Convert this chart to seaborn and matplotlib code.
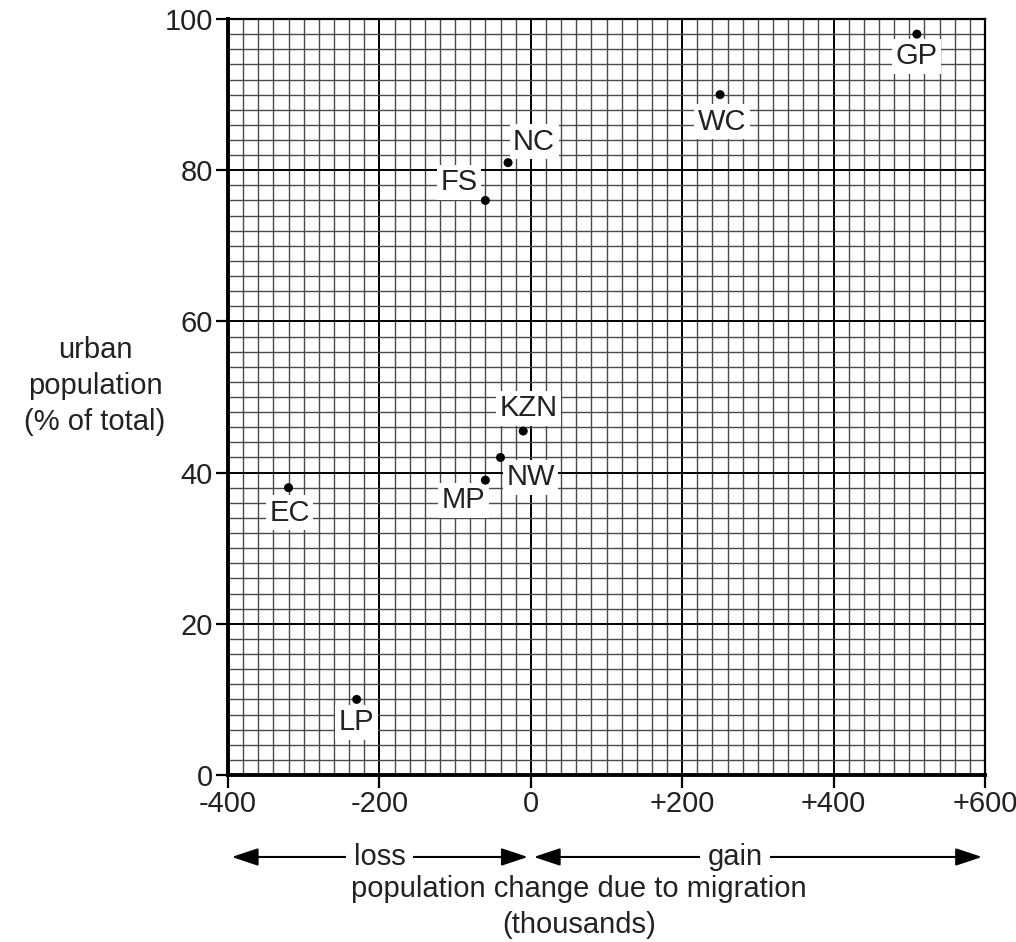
import numpy as np
import pandas as pd
import matplotlib
matplotlib.use("Agg")
import matplotlib.pyplot as plt
import matplotlib.transforms as mtransforms
import seaborn as sns

# --------------------------------------------------------------------------- #
# Data: provinces, migration change (thousands) and urban population (%)
# --------------------------------------------------------------------------- #
provinces = ["GP", "WC", "NC", "FS", "KZN", "NW", "MP", "EC", "LP"]
migration_change = [510, 250, -30, -60, -10, -40, -60, -320, -230]
urban_pct = [98, 90, 81, 76, 45.5, 42, 39, 38, 10]

x_ticks = [-400, -200, 0, 200, 400, 600]
x_tick_labels = ["-400", "-200", "0", "+200", "+400", "+600"]
y_ticks = [0, 20, 40, 60, 80, 100]

df = pd.DataFrame({"province": provinces, "change": migration_change,
                   "urban": urban_pct})

# label placement relative to each dot (pixels)
label_offsets = {
    "GP": (0, -22), "WC": (2, -27), "NC": (26, 21), "FS": (-26, 18),
    "KZN": (5, 23), "NW": (30, -20), "MP": (-22, -20), "EC": (1, -25),
    "LP": (0, -23),
}

sns.set_theme(style="white")
plt.rcParams["font.family"] = ["Liberation Sans", "DejaVu Sans"]
TXT = "#222222"
FS = 21

fig = plt.figure(figsize=(10.16, 9.42), dpi=100)
ax = fig.add_axes([0.2244, 0.1773, 0.9695 - 0.2244, 0.9798 - 0.1773])

ax.set_xlim(-400, 600)
ax.set_ylim(0, 100)

# graph-paper grid
ax.set_xticks(np.arange(-400, 601, 20), minor=True)
ax.set_yticks(np.arange(0, 101, 2), minor=True)
ax.set_xticks(x_ticks)
ax.set_xticklabels(x_tick_labels)
ax.set_yticks(y_ticks)
ax.grid(which="minor", color="#4a4a4a", linewidth=1.0)
ax.grid(which="major", color="black", linewidth=1.4)
ax.set_axisbelow(True)

for side in ["left", "bottom"]:
    ax.spines[side].set_linewidth(2.8)
    ax.spines[side].set_color("black")
for side in ["top", "right"]:
    ax.spines[side].set_linewidth(1.6)
    ax.spines[side].set_color("black")

ax.tick_params(which="major", direction="out", length=9, width=1.6,
               color="black", labelsize=FS, labelcolor=TXT, pad=2,
               bottom=True, left=True)
ax.tick_params(which="minor", length=0)

for name, x, y in zip(provinces, migration_change, urban_pct):
    dx, dy = label_offsets[name]
    ax.annotate(name, (x, y), xytext=(dx, dy), textcoords="offset pixels",
                ha="center", va="center", fontsize=FS, color=TXT, zorder=5,
                bbox=dict(boxstyle="square,pad=0.12", fc="white", ec="none"))

# dots drawn above the label boxes
sns.scatterplot(data=df, x="change", y="urban", color="black", s=42,
                edgecolor="none", ax=ax, zorder=7, legend=False)

ax.set_xlabel("")
ax.set_ylabel("")

# y-axis title, horizontal on the left
fig.text(95 / 1016, 1 - 386 / 942, "urban\npopulation\n(% of total)",
         ha="center", va="center", multialignment="center", fontsize=FS,
         color=TXT, linespacing=1.35)

# loss / gain arrows below the axis
trans = mtransforms.blended_transform_factory(ax.transData, ax.transAxes)
arrow_y = (775 - 857) / 756
arrow_kw = dict(arrowstyle="<|-|>,head_length=0.9,head_width=0.3",
                color="black", lw=1.5, mutation_scale=18,
                shrinkA=0, shrinkB=0)
ax.annotate("", xy=(-395, arrow_y), xytext=(-4, arrow_y), xycoords=trans,
            textcoords=trans, arrowprops=arrow_kw, annotation_clip=False)
ax.annotate("", xy=(4, arrow_y), xytext=(596, arrow_y), xycoords=trans,
            textcoords=trans, arrowprops=arrow_kw, annotation_clip=False)
for word, xc in [("loss", -200), ("gain", 270)]:
    ax.text(xc, arrow_y, word, transform=trans, ha="center", va="center",
            fontsize=FS, color=TXT, zorder=5, clip_on=False,
            bbox=dict(boxstyle="square,pad=0.25", fc="white", ec="none"))

fig.text(579 / 1016, 1 - 907 / 942,
         "population change due to migration\n(thousands)",
         ha="center", va="center", multialignment="center", fontsize=FS,
         color=TXT, linespacing=1.35)

fig.savefig("out.png", dpi=100)
